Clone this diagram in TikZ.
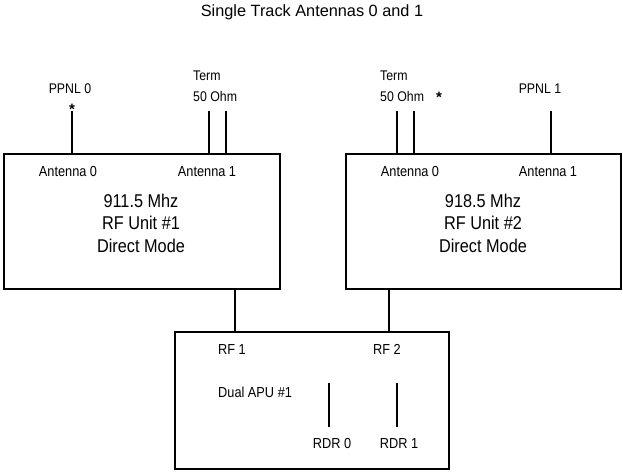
\documentclass[tikz,border=0pt]{standalone}
\usepackage{fontspec}
\setmainfont{Liberation Sans}
\newfontfamily\cond{Liberation Sans}[FakeStretch=0.88]
\begin{document}
\begin{tikzpicture}[x=1pt,y=-1pt,
  box/.style={draw, line width=1.5pt, inner sep=0pt},
  ant/.style={line width=2.4pt},
  conn/.style={line width=1.8pt},
  lab/.style={anchor=base, inner sep=0pt, font=\cond\fontsize{14.5}{16}\selectfont},
  big/.style={anchor=base, inner sep=0pt, font=\cond\fontsize{18.5}{20}\selectfont},
  small/.style={anchor=base, inner sep=0pt, font=\cond\fontsize{14}{16}\selectfont},
  starlab/.style={anchor=base, inner sep=0pt, font=\bfseries\fontsize{15}{16}\selectfont},
  termlab/.style={anchor=base west, inner sep=0pt, font=\cond\fontsize{14}{16}\selectfont}]
\useasboundingbox (0,0) rectangle (623,474);
\fill[white] (0,0) rectangle (623,474);

% title
\node[anchor=base, inner sep=0pt, font=\fontsize{16.3}{18}\selectfont] (title) at (312,16) {Single Track Antennas 0 and 1};

% boxes
\node[box, minimum width=276pt, minimum height=135pt] (rf1) at (142,221.5) {};
\node[box, minimum width=275pt, minimum height=135pt] (rf2) at (483.5,221.5) {};
\node[box, minimum width=274pt, minimum height=137pt] (apu) at (312,400.5) {};

% RF unit 1 texts
\node[lab] (a10) at (68,176) {Antenna 0};
\node[lab] (a11) at (207,176) {Antenna 1};
\node[big] (f1) at (141,207) {911.5 Mhz};
\node[big] (u1) at (141,229.5) {RF Unit \#1};
\node[big] (m1) at (141,252) {Direct Mode};

% RF unit 2 texts
\node[lab] (a20) at (410,176) {Antenna 0};
\node[lab] (a21) at (548,176) {Antenna 1};
\node[big] (f2) at (483,207) {918.5 Mhz};
\node[big] (u2) at (483,229.5) {RF Unit \#2};
\node[big] (m2) at (483,252) {Direct Mode};

% antenna labels above
\node[small] (ppnl0) at (70,93) {PPNL 0};
\node[starlab] (star0) at (72,114) {*};
\node[termlab] (term1) at (193,80) {Term};
\node[termlab] (ohm1) at (193,101) {50 Ohm};
\node[termlab] (term2) at (380,80) {Term};
\node[termlab] (ohm2) at (380,101) {50 Ohm};
\node[starlab] (star1) at (439,102) {*};
\node[small] (ppnl1) at (540,93) {PPNL 1};

% antenna lines
\coordinate (p0) at (72,111);
\coordinate (t1a) at (209,111);
\coordinate (t1b) at (226,111);
\coordinate (t2a) at (397,111);
\coordinate (t2b) at (414,111);
\coordinate (p1) at (551,111);
\foreach \c in {p0,t1a,t1b}
  \draw[ant] (\c) -- (\c |- rf1.north);
\foreach \c in {t2a,t2b,p1}
  \draw[ant] (\c) -- (\c |- rf2.north);

% connectors between boxes
\coordinate (c1) at (235,310);
\coordinate (c2) at (389,310);
\draw[conn] (c1 |- rf1.south) -- (c1 |- apu.north);
\draw[conn] (c2 |- rf2.south) -- (c2 |- apu.north);

% APU texts
\node[lab] (rfa) at (232,354) {RF 1};
\node[lab] (rfb) at (387,354) {RF 2};
\node[lab, anchor=base west] (dual) at (218,397) {Dual APU \#1};
\coordinate (r0top) at (329,383);
\coordinate (r0bot) at (329,427);
\coordinate (r1top) at (397,383);
\coordinate (r1bot) at (397,427);
\draw[ant] (r0top) -- (r0bot);
\draw[ant] (r1top) -- (r1bot);
\node[lab] (rdr0) at (332,448) {RDR 0};
\node[lab] (rdr1) at (399,448) {RDR 1};
\end{tikzpicture}
\end{document}
